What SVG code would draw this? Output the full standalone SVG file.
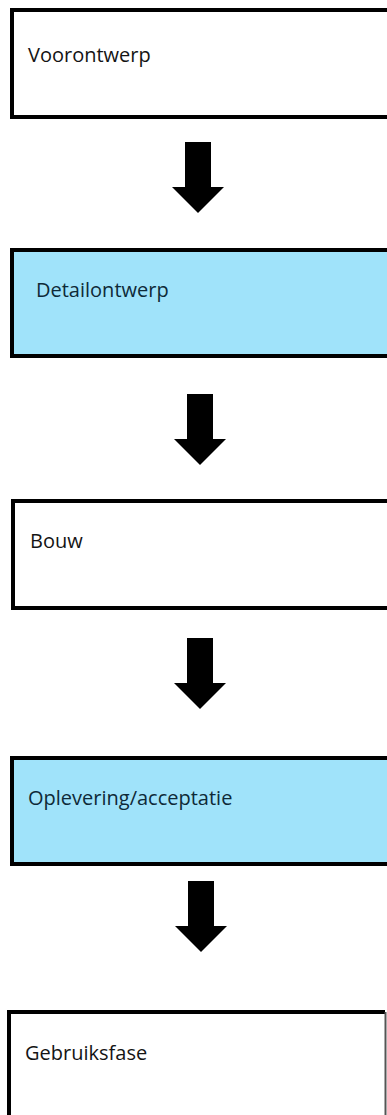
<svg xmlns="http://www.w3.org/2000/svg" width="387" height="1115" viewBox="0 0 387 1115">
  <defs>
    <style>
      .box { stroke: #000; stroke-width: 4; }
      .plain { fill: #fff; }
      .tinted { fill: #a0e3fa; }
      .label { font-family: "Open Sans", "Noto Sans", sans-serif; font-size: 20px; fill: #141414; }
      .tinted-label { fill: #0e2a38; }
      .arrow { fill: #000; }
    </style>
    <!-- block arrow pointing down, origin at top centre of the shaft -->
    <path id="down-arrow" d="M -13 0 H 13 V 45 H 26 L 0 71 L -26 45 H -13 Z"/>
  </defs>

  <rect width="387" height="1115" fill="#fff"/>

  <g id="voorontwerp">
    <rect class="box plain" x="12" y="10" width="390" height="107"/>
    <text class="label" x="28" y="62">Voorontwerp</text>
  </g>

  <g id="detailontwerp">
    <rect class="box tinted" x="12" y="250" width="390" height="106"/>
    <text class="label tinted-label" x="36" y="297">Detailontwerp</text>
  </g>

  <g id="bouw">
    <rect class="box plain" x="13" y="501" width="390" height="107"/>
    <text class="label" x="30" y="548">Bouw</text>
  </g>

  <g id="oplevering">
    <rect class="box tinted" x="12" y="758" width="390" height="106"/>
    <text class="label tinted-label" x="28" y="805">Oplevering/acceptatie</text>
  </g>

  <g id="gebruiksfase">
    <rect class="plain" x="9" y="1012" width="376" height="120"/>
    <path d="M 9 1140 V 1012 H 385" fill="none" stroke="#000" stroke-width="4"/>
    <line x1="385.5" y1="1012" x2="385.5" y2="1115" stroke="#555" stroke-width="2"/>
    <text class="label" x="25" y="1060">Gebruiksfase</text>
  </g>

  <g id="connectors" class="arrow">
    <use href="#down-arrow" transform="translate(198 142)"/>
    <use href="#down-arrow" transform="translate(200 394)"/>
    <use href="#down-arrow" transform="translate(200 638)"/>
    <use href="#down-arrow" transform="translate(201 881)"/>
  </g>
</svg>
